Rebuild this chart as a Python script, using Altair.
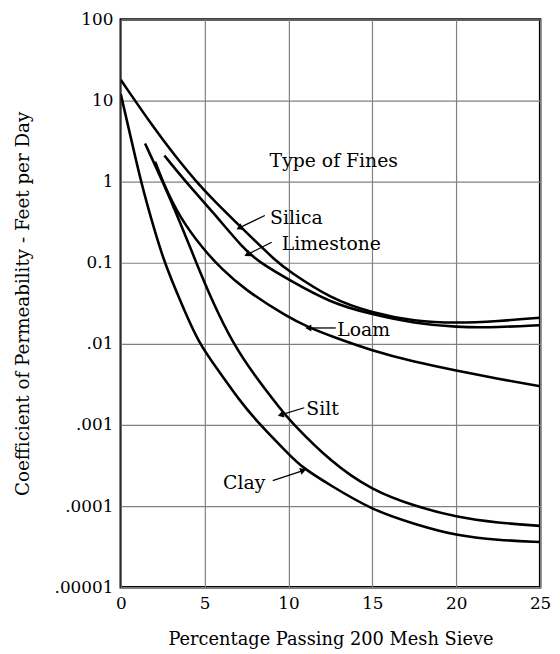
import altair as alt
import pandas as pd

# ---------------- data ----------------
silica_x = [0, 2, 3.3, 4.5, 5.5, 7.2, 9.35, 10, 12.5, 15, 17.5, 20, 22.5, 25]
silica_y = [18, 4.5, 2.0, 1.0, 0.6, 0.27, 0.1, 0.08, 0.036, 0.024, 0.019, 0.018, 0.019, 0.021]

limestone_x = [2.6, 3.86, 5.5, 7.3, 8.3, 10, 12.5, 15, 17.5, 20, 22.5, 25]
limestone_y = [2.1, 1.0, 0.42, 0.15, 0.1, 0.062, 0.032, 0.023, 0.018, 0.016, 0.016, 0.017]

loam_x = [2.05, 2.5, 3.5, 5, 6, 7.3, 10, 11.2, 12.5, 15, 17.5, 20, 22.5, 25]
loam_y = [1.76, 1.0, 0.36, 0.14, 0.085, 0.048, 0.021, 0.016, 0.0125, 0.0082, 0.006, 0.0047, 0.0037, 0.003]

silt_x = [1.45, 2.5, 3.5, 4.5, 5.5, 6.7, 8, 9.6, 10, 12.5, 15, 17.5, 20, 22.5, 25]
silt_y = [2.95, 1.0, 0.33, 0.1, 0.032, 0.01, 0.004, 0.0015, 0.00118, 0.00035, 0.000155,
          0.0001, 0.000073, 0.000062, 0.000057]

clay_x = [0, 0.6, 1.2, 1.9, 2.6, 3.6, 4.65, 6, 7, 8.3, 10, 10.8, 12.5, 15, 17.5, 20, 22.5, 25]
clay_y = [12, 3.5, 1.0, 0.3, 0.1, 0.032, 0.01, 0.0042, 0.0021, 0.001, 0.00044, 0.0003,
          0.00018, 0.000089, 0.00006, 0.000043, 0.000038, 0.000036]

series_names = ["Silica", "Limestone", "Loam", "Silt", "Clay"]
series_x = [silica_x, limestone_x, loam_x, silt_x, clay_x]
series_y = [silica_y, limestone_y, loam_y, silt_y, clay_y]

# annotation labels (text, left x, y)
label_text = ["Silica", "Limestone", "Loam", "Silt", "Clay"]
label_x = [8.9, 9.6, 12.9, 11.06, 6.1]
label_y = [0.36, 0.17, 0.0148, 0.00155, 0.00019]

# arrows (tail -> tip)
arrow_x1 = [8.59, 9.0, 12.82, 10.94, 9.06]
arrow_y1 = [0.382, 0.179, 0.0157, 0.00163, 0.000206]
arrow_x2 = [7.12, 7.59, 11.24, 9.59, 10.82]
arrow_y2 = [0.273, 0.128, 0.0157, 0.00134, 0.000272]
arrow_angle = [244, 243, 270, 253, 72]

heading_text = ["Type of Fines"]
heading_x = [12.7]
heading_y = [1.8]

x_ticks = [0, 5, 10, 15, 20, 25]
y_tick_values = [0.00001, 0.0001, 0.001, 0.01, 0.1, 1, 10, 100]
y_tick_labels = [".00001", ".0001", ".001", ".01", "0.1", "1", "10", "100"]

# ---------------- build tables ----------------
rows = []
for name, xs, ys in zip(series_names, series_x, series_y):
    for i, (xv, yv) in enumerate(zip(xs, ys)):
        rows.append({"series": name, "x": xv, "y": yv, "order": i})
curves_df = pd.DataFrame(rows)

labels_df = pd.DataFrame({"text": label_text, "x": label_x, "y": label_y})
arrows_df = pd.DataFrame({"x": arrow_x1, "y": arrow_y1, "x2": arrow_x2, "y2": arrow_y2,
                          "angle": arrow_angle})
heading_df = pd.DataFrame({"text": heading_text, "x": heading_x, "y": heading_y})

# label expression from tick lists
expr = "'" + y_tick_labels[0] + "'"
for v, lab in zip(y_tick_values[1:], y_tick_labels[1:]):
    expr = f"datum.value >= {v * 0.5} ? '{lab}' : (" + expr + ")"

FONT = "DejaVu Serif"

x_scale = alt.Scale(domain=[0, 25], nice=False, zero=False)
y_scale = alt.Scale(type="log", domain=[0.00001, 100], nice=False)

x_axis = alt.Axis(values=x_ticks, title="Percentage Passing 200 Mesh Sieve",
                  grid=True, gridColor="#808080", gridWidth=1.2, ticks=False, domain=False,
                  labelFont=FONT, labelFontSize=17, labelColor="black", labelPadding=9,
                  titleFont=FONT, titleFontSize=18, titleFontWeight="normal",
                  titleColor="black", titlePadding=19, labelFlush=False)
y_axis = alt.Axis(values=y_tick_values, labelExpr=expr,
                  title="Coefficient of Permeability - Feet per Day",
                  grid=True, gridColor="#808080", gridWidth=1.2, ticks=False, domain=False,
                  labelFont=FONT, labelFontSize=17, labelColor="black", labelPadding=8,
                  titleFont=FONT, titleFontSize=18.5, titleFontWeight="normal",
                  titleColor="black", titlePadding=22, labelFlush=False)

curves = alt.Chart(curves_df).mark_line(
    color="black", strokeWidth=2.6, interpolate="basis", clip=True
).encode(
    x=alt.X("x:Q", scale=x_scale, axis=x_axis),
    y=alt.Y("y:Q", scale=y_scale, axis=y_axis),
    detail="series:N",
    order="order:Q",
)

arrows = alt.Chart(arrows_df).mark_rule(color="black", strokeWidth=1.3).encode(
    x=alt.X("x:Q", scale=x_scale), y=alt.Y("y:Q", scale=y_scale),
    x2="x2:Q", y2="y2:Q",
)

heads = alt.Chart(arrows_df).mark_point(
    shape="triangle", filled=True, color="black", size=50, opacity=1
).encode(
    x=alt.X("x2:Q", scale=x_scale), y=alt.Y("y2:Q", scale=y_scale),
    angle=alt.Angle("angle:Q", scale=None),
)

labels = alt.Chart(labels_df).mark_text(
    font=FONT, fontSize=19, align="left", baseline="middle", color="black"
).encode(
    x=alt.X("x:Q", scale=x_scale), y=alt.Y("y:Q", scale=y_scale), text="text:N"
)

heading = alt.Chart(heading_df).mark_text(
    font=FONT, fontSize=19, align="center", baseline="middle", color="black"
).encode(
    x=alt.X("x:Q", scale=x_scale), y=alt.Y("y:Q", scale=y_scale), text="text:N"
)

chart = alt.layer(curves, arrows, heads, labels, heading).properties(
    width=424, height=574,
    autosize=alt.AutoSizeParams(type="none"),
    padding={"left": 114, "top": 8, "right": 12, "bottom": 64},
    background="white",
).configure_view(stroke="black", strokeWidth=2.5)

chart.save("out.html", embed_options={"renderer": "svg", "actions": False})
